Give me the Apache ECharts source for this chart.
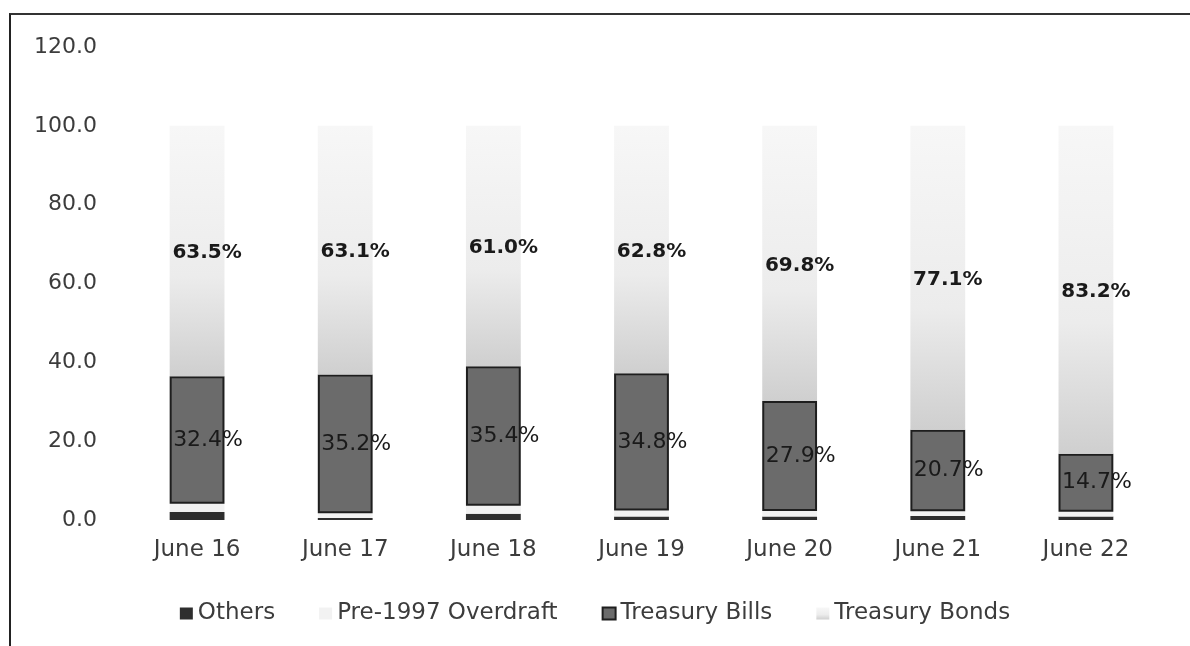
<!DOCTYPE html>
<html>
<head>
<meta charset="utf-8">
<script src="https://cdn.jsdelivr.net/npm/echarts@6/dist/echarts.min.js"></script>
<style>
html, body { margin: 0; padding: 0; background: #fff; }
#frame { position: absolute; left: 9px; top: 13px; width: 1190px; height: 640px; border-left: 2px solid #222; border-top: 2px solid #333; }
#chart { position: absolute; left: 0; top: 0; width: 1190px; height: 646px; }
</style>
</head>
<body>
<div id="frame"></div>
<div id="chart"></div>
<script>
var categories = ['June 16', 'June 17', 'June 18', 'June 19', 'June 20', 'June 21', 'June 22'];
var others = [2.0, 0.5, 1.6, 0.9, 0.9, 1.0, 0.9];
var overdraft = [2.1, 1.2, 2.0, 1.5, 1.4, 1.2, 1.2];
var bills = [32.4, 35.2, 35.4, 34.8, 27.9, 20.7, 14.7];
var bonds = [63.5, 63.1, 61.0, 62.8, 69.8, 77.1, 83.2];

var myChart = echarts.init(document.getElementById('chart'));

var pctLabel = function (p) {
	return p.value.toFixed(1) + '%';
};

option = {
	animation: false,
	grid: {
		left: 123,
		right: 30,
		top: 47,
		bottom: 126
	},
	legend: {
		bottom: 16,
		left: 'center',
		itemWidth: 13,
		itemHeight: 12,
		itemGap: 44,
		icon: 'rect',
		textStyle: {
			fontFamily: 'DejaVu Sans',
			fontSize: 23,
			color: '#3c3c3c'
		},
		data: ['Others', 'Pre-1997 Overdraft', 'Treasury Bills', 'Treasury Bonds']
	},
	xAxis: {
		type: 'category',
		data: categories,
		axisLine: { show: false },
		axisTick: { show: false },
		axisLabel: {
			fontFamily: 'DejaVu Sans',
			fontSize: 23,
			color: '#3c3c3c',
			margin: 19
		}
	},
	yAxis: {
		type: 'value',
		min: 0,
		max: 120,
		interval: 20,
		splitLine: { show: false },
		axisLine: { show: false },
		axisTick: { show: false },
		axisLabel: {
			fontFamily: 'DejaVu Sans',
			fontSize: 22,
			color: '#3c3c3c',
			margin: 26,
			formatter: function (v) { return v.toFixed(1); }
		}
	},
	series: [{
			name: 'Others',
			type: 'bar',
			stack: 'debt',
			barWidth: '37%',
			itemStyle: { color: '#2e2e2e' },
			data: others
		},
		{
			name: 'Pre-1997 Overdraft',
			type: 'bar',
			stack: 'debt',
			itemStyle: { color: '#f2f2f2' },
			data: overdraft
		},
		{
			name: 'Treasury Bills',
			type: 'bar',
			stack: 'debt',
			itemStyle: {
				color: '#6b6b6b',
				borderColor: '#1e1e1e',
				borderWidth: 2
			},
			label: {
				show: true,
				position: 'inside',
				formatter: pctLabel,
				fontFamily: 'DejaVu Sans',
				fontSize: 22,
				color: '#1a1a1a',
				offset: [11, 0]
			},
			data: bills
		},
		{
			name: 'Treasury Bonds',
			type: 'bar',
			stack: 'debt',
			itemStyle: {
				color: new echarts.graphic.LinearGradient(0, 0, 0, 1, [
					{ offset: 0, color: '#f7f7f7' },
					{ offset: 0.6, color: '#ececec' },
					{ offset: 1, color: '#cfcfcf' }
				])
			},
			label: {
				show: true,
				position: 'inside',
				formatter: pctLabel,
				fontFamily: 'DejaVu Sans',
				fontWeight: 'bold',
				fontSize: 20,
				color: '#1a1a1a',
				offset: [10, 2]
			},
			data: bonds
		}
	]
};

myChart.setOption(option);
</script>
</body>
</html>
